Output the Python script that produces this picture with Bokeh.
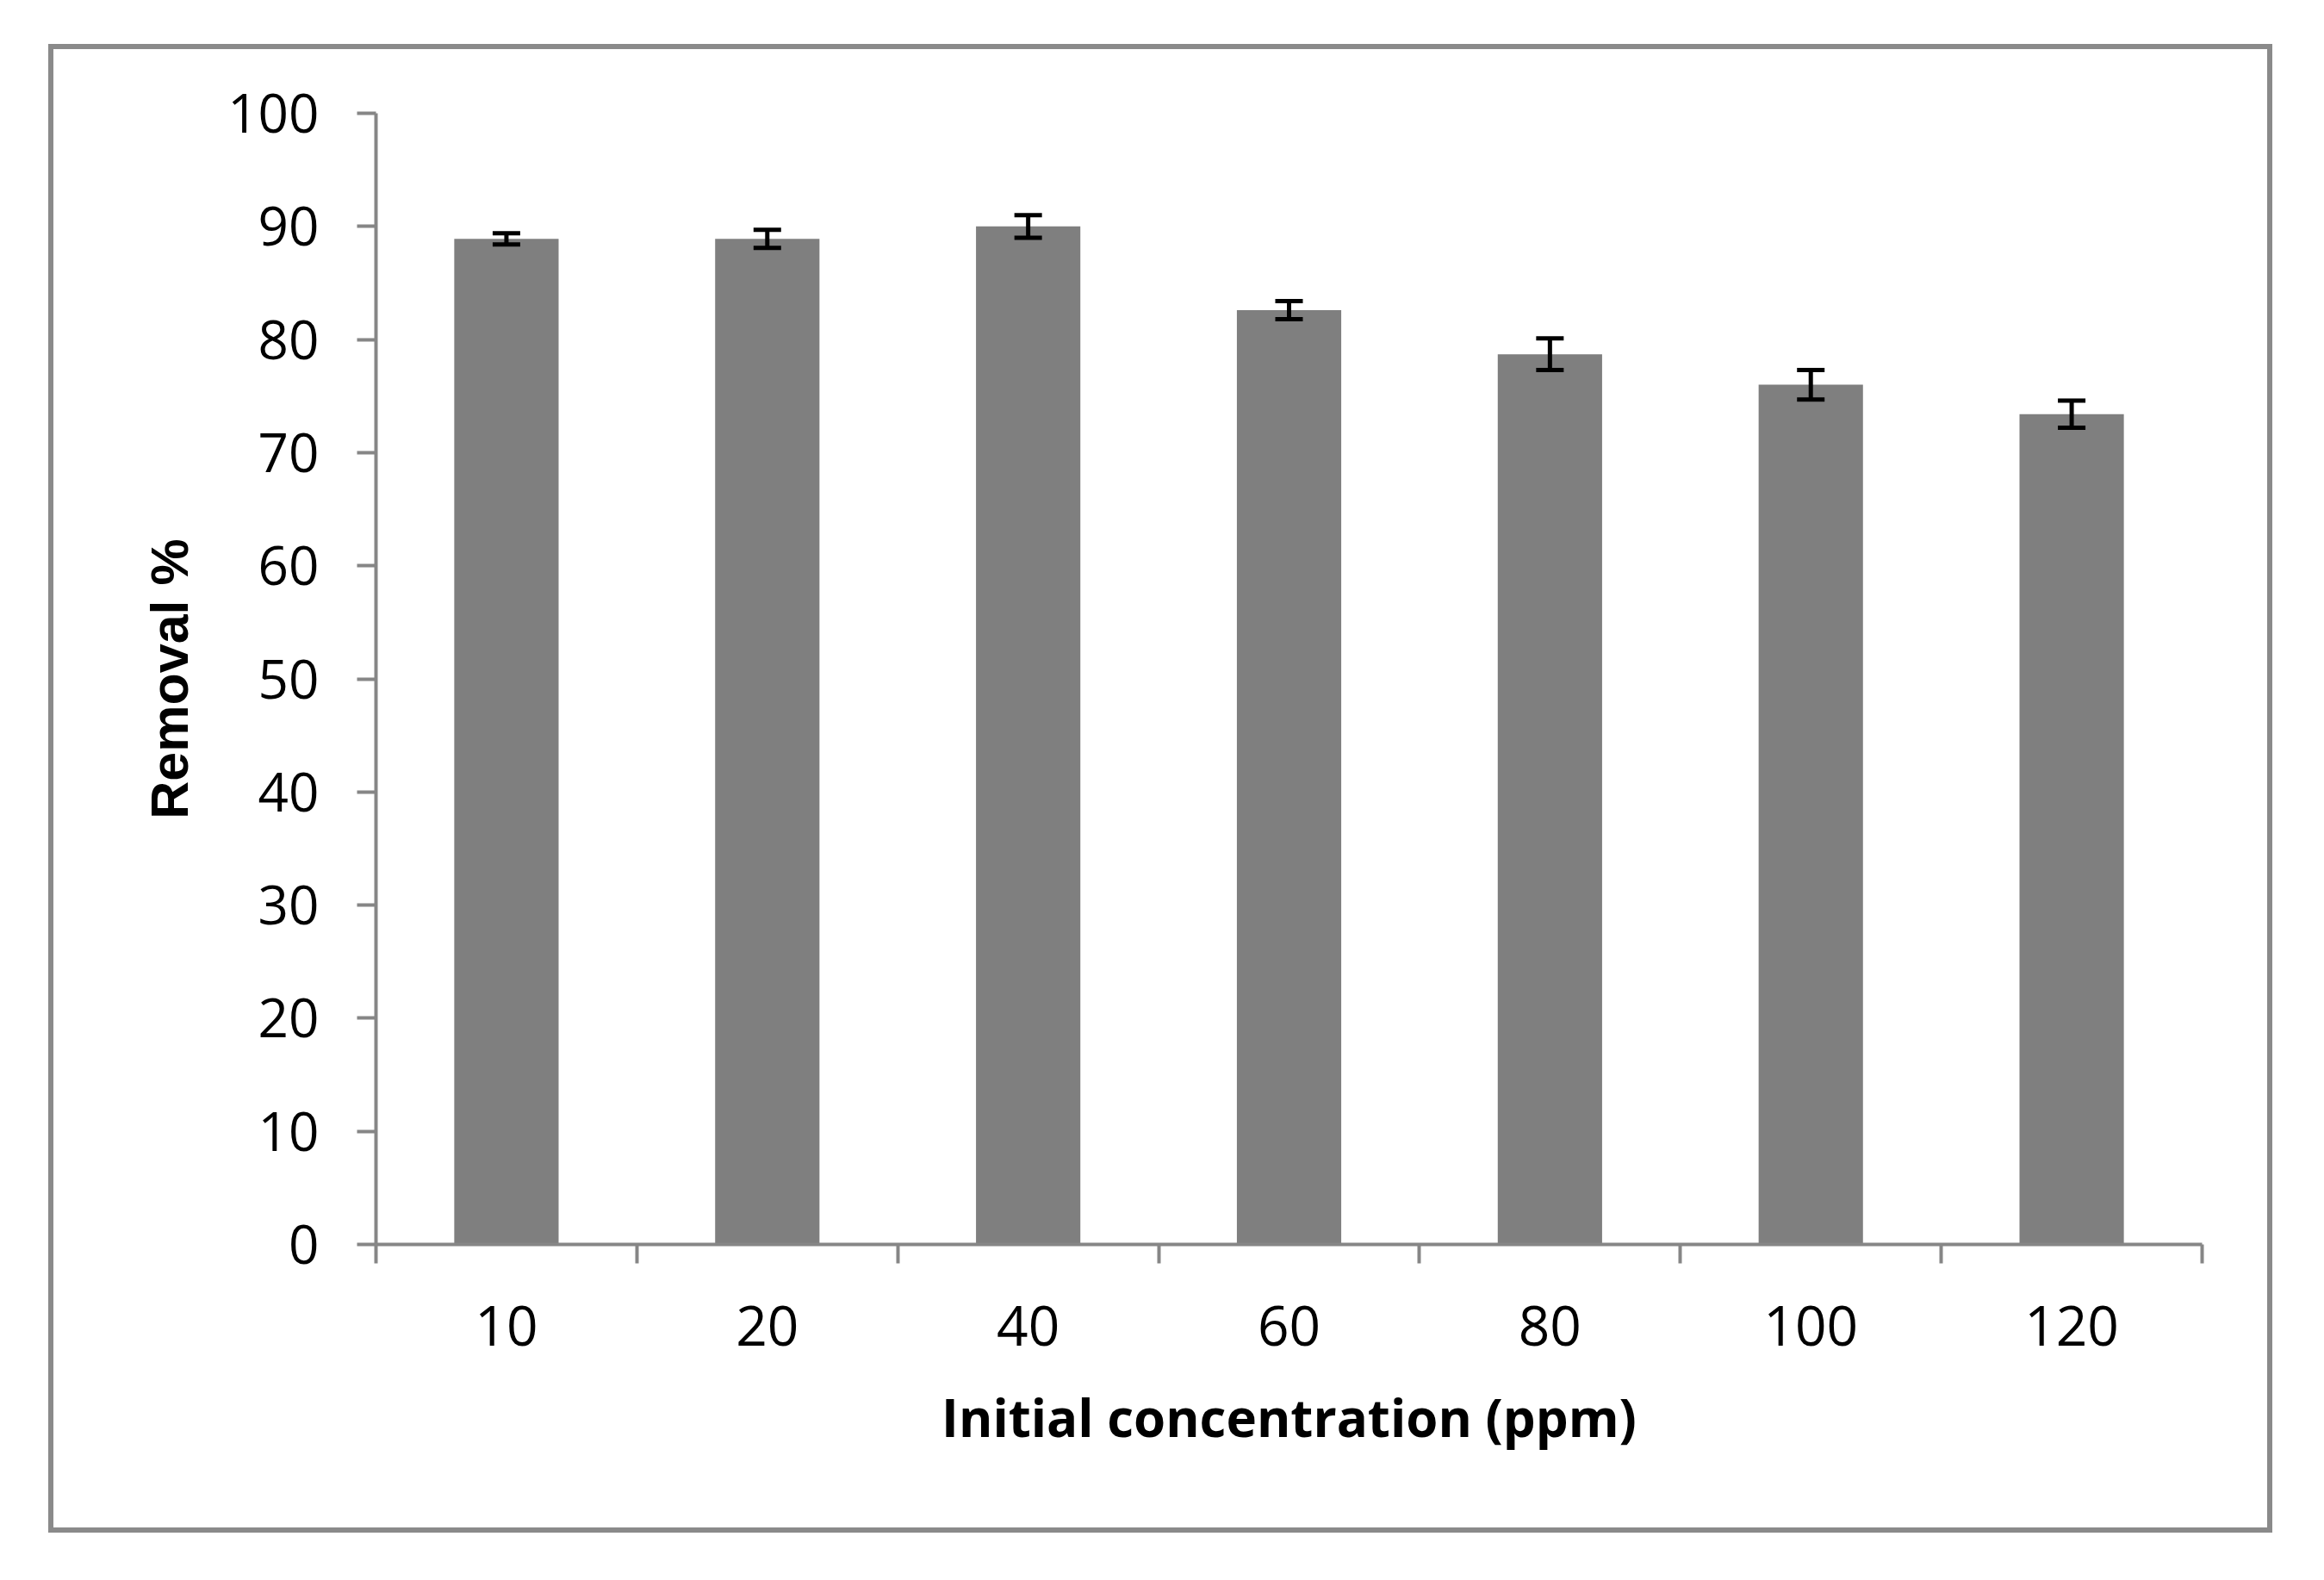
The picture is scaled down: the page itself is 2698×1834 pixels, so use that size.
from bokeh.plotting import figure
from bokeh.models import (ColumnDataSource, FactorRange, Range1d, LinearAxis, CategoricalAxis,
                          FixedTicker, Whisker, TeeHead)
from bokeh.embed import file_html
from bokeh.resources import INLINE

# ---- data ----
concentrations = ["10", "20", "40", "60", "80", "100", "120"]
removal = [88.9, 88.9, 90.0, 82.6, 78.7, 76.0, 73.4]
removal_err = [0.5, 0.8, 1.0, 0.8, 1.4, 1.3, 1.2]
y_ticks = [0, 10, 20, 30, 40, 50, 60, 70, 80, 90, 100]

AXIS_GRAY = "#868686"
BAR_GRAY = "#7f7f7f"
TICK_FONT = "Open Sans"

src = ColumnDataSource(dict(
    x=concentrations,
    top=removal,
    upper=[v + e for v, e in zip(removal, removal_err)],
    lower=[v - e for v, e in zip(removal, removal_err)],
))

W, H = 2570, 1716
p = figure(width=W, height=H, x_range=FactorRange(*concentrations), y_range=Range1d(0, 100),
           output_backend="svg", toolbar_location=None, x_axis_location=None, y_axis_location=None,
           min_border_left=374, min_border_right=88, min_border_top=74, min_border_bottom=341)
p.outline_line_color = None
p.background_fill_color = "white"
p.border_fill_color = "white"
p.xgrid.visible = False
p.ygrid.visible = False
p.margin = (51, 0, 0, 56)
p.styles = {"border": "6px solid #8a8a8a", "box-sizing": "content-box"}

p.vbar(x="x", top="top", width=0.4, bottom=0, source=src, fill_color=BAR_GRAY, line_color=None)

whisk = Whisker(base="x", upper="upper", lower="lower", source=src,
                line_color="black", line_width=5, level="overlay",
                upper_head=TeeHead(size=32, line_color="black", line_width=5),
                lower_head=TeeHead(size=32, line_color="black", line_width=5))
p.add_layout(whisk)

# y axis
yax = LinearAxis(ticker=FixedTicker(ticks=y_ticks), axis_label="Removal %")
yax.axis_line_color = AXIS_GRAY
yax.axis_line_width = 4
yax.major_tick_line_color = AXIS_GRAY
yax.major_tick_line_width = 4
yax.major_tick_out = 22
yax.major_tick_in = 0
yax.minor_tick_line_color = None
yax.major_label_standoff = 44
yax.major_label_text_font = TICK_FONT
yax.major_label_text_font_size = "62px"
yax.major_label_text_color = "black"
yax.axis_label_text_font = "Liberation Sans"
yax.axis_label_text_font_style = "bold"
yax.axis_label_text_font_size = "61px"
yax.axis_label_text_color = "black"
yax.axis_label_standoff = 30
p.add_layout(yax, "left")

# x axis: boundary ticks
xtick = LinearAxis(ticker=FixedTicker(ticks=list(range(len(concentrations) + 1))))
xtick.axis_line_color = AXIS_GRAY
xtick.axis_line_width = 4
xtick.major_tick_line_color = AXIS_GRAY
xtick.major_tick_line_width = 4
xtick.major_tick_out = 22
xtick.major_tick_in = 0
xtick.minor_tick_line_color = None
xtick.major_label_overrides = {i: "" for i in range(len(concentrations) + 1)}
xtick.major_label_text_font_size = "1px"
xtick.major_label_standoff = 0
p.add_layout(xtick, "below")

# x axis: category labels
xlab = CategoricalAxis(axis_label="Initial concentration (ppm)")
xlab.axis_line_color = None
xlab.major_tick_line_color = None
xlab.major_tick_out = 0
xlab.major_tick_in = 0
xlab.major_label_standoff = 49
xlab.major_label_text_font = TICK_FONT
xlab.major_label_text_font_size = "64px"
xlab.major_label_text_color = "black"
xlab.axis_label_text_font = TICK_FONT
xlab.axis_label_text_font_style = "bold"
xlab.axis_label_text_font_size = "60px"
xlab.axis_label_text_color = "black"
xlab.axis_label_standoff = 39
p.add_layout(xlab, "below")

open("out.html", "w").write(file_html(p, INLINE))
